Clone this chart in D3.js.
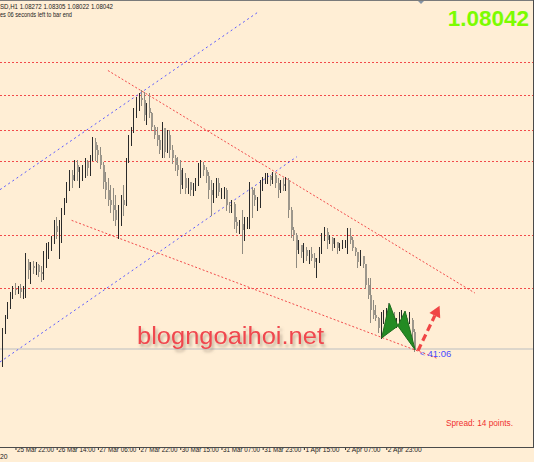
<!DOCTYPE html>
<html><head><meta charset="utf-8">
<script src="https://cdn.jsdelivr.net/npm/d3@7/dist/d3.min.js"></script>
<style>html,body{margin:0;padding:0;background:#FFEED5;}svg{display:block;}</style>
</head><body>
<svg id="c" width="534" height="462"></svg>
<script>
// ---------- DATA ----------
const firstOpen = 1.0787;
const highs = [1.0832,1.0849,1.0867,1.0880,1.0889,1.0893,1.0888,1.0891,1.0889,1.0933,
1.0925,1.0920,1.0922,1.0920,1.0918,1.0915,1.0935,1.0946,1.0947,1.0955,
1.0976,1.0980,1.0976,1.0993,1.1006,1.1027,1.1043,1.1043,1.1057,1.1057,
1.1047,1.1050,1.1059,1.1057,1.1063,1.1087,1.1086,1.1077,1.1074,1.1054,
1.1041,1.1033,1.1023,1.1019,1.1010,1.0996,1.1010,1.1023,1.1059,1.1090,
1.1101,1.1126,1.1141,1.1146,1.1150,1.1147,1.1133,1.1146,1.1121,1.1103,
1.1101,1.1090,1.1107,1.1083,1.1097,1.1097,1.1077,1.1063,1.1061,1.1057,
1.1046,1.1039,1.1033,1.1027,1.1026,1.1033,1.1053,1.1057,1.1054,1.1047,
1.1041,1.1030,1.1026,1.1033,1.1033,1.1019,1.1021,1.1019,1.1000,1.1003,
1.1000,1.0980,1.0976,1.0990,1.0980,1.0980,1.1027,1.1021,1.1019,1.1007,
1.1030,1.1034,1.1039,1.1039,1.1037,1.1041,1.1039,1.1033,1.1030,1.1033,
1.1034,1.1033,1.0994,1.0967,1.0959,1.0950,1.0943,1.0946,1.0940,1.0936,
1.0940,1.0932,1.0926,1.0940,1.0959,1.0967,1.0966,1.0956,1.0954,1.0952,
1.0947,1.0946,1.0950,1.0950,1.0966,1.0966,1.0954,1.0940,1.0933,1.0936,
1.0927,1.0916,1.0899,1.0899,1.0870,1.0863,1.0847,1.0853,1.0856,1.0859,
1.0866,1.0856,1.0853,1.0845,1.0854,1.0856,1.0854,1.0850,1.0853,1.0845,
1.08305];
const lows = [1.0781,1.0825,1.0845,1.0859,1.0872,1.0878,1.0879,1.0874,1.0872,1.0874,
1.0899,1.0892,1.0906,1.0905,1.0902,1.0895,1.0898,1.0914,1.0926,1.0936,
1.0946,1.0952,1.0926,1.0947,1.0985,1.1000,1.1017,1.1021,1.1030,1.1030,
1.1021,1.1030,1.1034,1.1037,1.1037,1.1057,1.1057,1.1054,1.1046,1.1019,
1.1006,1.0996,1.0987,1.0976,1.0970,1.0952,1.0970,1.0983,1.0996,1.1054,
1.1077,1.1097,1.1114,1.1123,1.1130,1.1110,1.1105,1.1114,1.1097,1.1086,
1.1077,1.1066,1.1061,1.1061,1.1070,1.1061,1.1053,1.1043,1.1037,1.1013,
1.1019,1.1013,1.1013,1.1010,1.1010,1.1017,1.1023,1.1034,1.1037,1.1027,
1.1006,1.0983,1.1000,1.1007,1.1010,1.1006,1.1006,1.0990,1.0987,1.0987,
1.0966,1.0960,1.0959,1.0933,1.0950,1.0966,1.0966,1.0980,1.0996,1.0990,
1.0994,1.1017,1.1026,1.1026,1.1023,1.1026,1.1021,1.1007,1.1014,1.1017,
1.1017,1.0980,1.0954,1.0950,1.0914,1.0932,1.0927,1.0920,1.0923,1.0919,
1.0923,1.0914,1.0900,1.0923,1.0932,1.0950,1.0939,1.0946,1.0936,1.0940,
1.0933,1.0936,1.0939,1.0940,1.0932,1.0946,1.0936,1.0930,1.0914,1.0916,
1.0914,1.0886,1.0872,1.0840,1.0845,1.0843,1.0827,1.0819,1.0839,1.0845,
1.0850,1.0840,1.0836,1.0833,1.0839,1.0840,1.0843,1.0836,1.0839,1.0816,
1.08022];
const closes = [1.0827,1.0845,1.0863,1.0875,1.0885,1.0883,1.0885,1.0880,1.0887,1.0920,
1.0910,1.0915,1.0912,1.0916,1.0907,1.0905,1.0923,1.0936,1.0941,1.0950,
1.0968,1.0960,1.0973,1.0987,1.1000,1.1019,1.1037,1.1030,1.1050,1.1041,
1.1043,1.1043,1.1054,1.1046,1.1059,1.1081,1.1070,1.1063,1.1050,1.1027,
1.1017,1.1003,1.0996,1.0990,1.0976,1.0983,1.1003,1.0996,1.1054,1.1083,
1.1094,1.1121,1.1137,1.1139,1.1137,1.1117,1.1126,1.1119,1.1101,1.1090,
1.1083,1.1070,1.1099,1.1067,1.1090,1.1070,1.1059,1.1050,1.1043,1.1023,
1.1033,1.1019,1.1027,1.1017,1.1022,1.1030,1.1046,1.1050,1.1043,1.1035,
1.1017,1.1010,1.1019,1.1026,1.1014,1.1014,1.1017,1.0996,1.0995,1.0998,
1.0974,1.0968,1.0971,1.0963,1.0974,1.0974,1.1017,1.1010,1.1003,1.1003,
1.1025,1.1030,1.1033,1.1035,1.1030,1.1037,1.1026,1.1017,1.1025,1.1022,
1.1030,1.0990,1.0963,1.0956,1.0936,1.0943,1.0934,1.0936,1.0928,1.0931,
1.0926,1.0920,1.0920,1.0936,1.0952,1.0960,1.0950,1.0952,1.0944,1.0947,
1.0939,1.0943,1.0946,1.0947,1.0955,1.0950,1.0939,1.0934,1.0920,1.0928,
1.0918,1.0890,1.0876,1.0856,1.0850,1.0845,1.0832,1.0845,1.0851,1.0856,
1.0854,1.0845,1.0840,1.0843,1.0850,1.0851,1.0845,1.0843,1.0843,1.08272,
1.08042];

const tickIndex  = [5,21,37,53,69,85,101,117,133,149];
const tickLabels = ["25 Mar 22:00","26 Mar 14:00","27 Mar 06:00","27 Mar 22:00","30 Mar 15:00",
                    "31 Mar 07:00","31 Mar 23:00","1 Apr 15:00","2 Apr 07:00","2 Apr 23:00"];
const firstDateLabel = "20";

const levels = [1.1187, 1.1143, 1.1096, 1.1055, 1.0956, 1.0886];
const blueChannel = [[[-0.8, 1.1017],[99.4, 1.1254]], [[-0.8, 1.0787],[114.5, 1.1061]]];
const redTrends   = [[[41.1, 1.1176],[183.6, 1.0879]], [[27.0, 1.0976],[168.8, 1.0792]]];
const gartley = [[147.4,1.0819],[150.4,1.0865],[153.7,1.0835],[156.5,1.0855],[160.4,1.0803]];
const arrowPts = [[161.5,1.0802],[169.9,1.0862]];
const lastPrice = 1.08042;
const symbolInfo = "SD,H1  1.08272 1.08305 1.08022 1.08042";
const timerInfo = "es 06 seconds left to bar end";
const countdown = "41:06";
const spreadText = "Spread: 14 points.";
const watermark = "blogngoaihoi.net";

// ---------- SCALES ----------
const W = 534, H = 462, plotR = 533, plotB = 447;
const x = d3.scaleLinear().domain([0, 160]).range([2.1, 2.1 + 160*2.575]);
const y = d3.scaleLinear().domain([1.0804, 1.1150]).range([349.2, 90]);
const FONT = "Liberation Sans, Arial, sans-serif";

const svg = d3.select("#c");
svg.append("rect").attr("width", W).attr("height", H).attr("fill", "#FFEED5");

const defs = svg.append("defs");
defs.append("clipPath").attr("id","plot").append("rect").attr("x",0).attr("y",0).attr("width",plotR).attr("height",plotB);
const f = defs.append("filter").attr("id","sh").attr("x","-10%").attr("y","-30%").attr("width","130%").attr("height","180%");
f.append("feDropShadow").attr("dx",2).attr("dy",3).attr("stdDeviation",1.6).attr("flood-color","#8a7a6a").attr("flood-opacity",0.55);

const g = svg.append("g").attr("clip-path","url(#plot)");

// horizontal levels
g.selectAll("line.lvl").data(levels).join("line")
  .attr("x1",0).attr("x2",plotR)
  .attr("y1",d=>Math.round(y(d))+0.5).attr("y2",d=>Math.round(y(d))+0.5)
  .attr("stroke","#f24a4a").attr("stroke-dasharray","2,2").attr("stroke-width",1);

// bid line
g.append("line").attr("x1",0).attr("x2",plotR).attr("y1",y(lastPrice)).attr("y2",y(lastPrice))
  .attr("stroke","#ddd6cb").attr("stroke-width",2);

// blue channel
g.selectAll("line.blue").data(blueChannel).join("line")
  .attr("x1",d=>x(d[0][0])).attr("y1",d=>y(d[0][1]))
  .attr("x2",d=>x(d[1][0])).attr("y2",d=>y(d[1][1]))
  .attr("stroke","#5a5aff").attr("stroke-dasharray","2,3").attr("stroke-width",1);

// red trend lines
g.selectAll("line.red").data(redTrends).join("line")
  .attr("x1",d=>x(d[0][0])).attr("y1",d=>y(d[0][1]))
  .attr("x2",d=>x(d[1][0])).attr("y2",d=>y(d[1][1]))
  .attr("stroke","#f24a4a").attr("stroke-dasharray","2,2").attr("stroke-width",1);

// candles
const bars = closes.map((c,i)=>{
  const o = i===0 ? firstOpen : closes[i-1];
  return {i, o, c, h: Math.max(highs[i],o,c), l: Math.min(lows[i],o,c)};
});
const cg = g.append("g");
bars.forEach(b=>{
  const cx = Math.round(x(b.i));
  const up = b.c >= b.o;
  cg.append("line").attr("x1",cx+0.5).attr("x2",cx+0.5)
    .attr("y1",Math.round(y(b.h))).attr("y2",Math.round(y(b.l))+1)
    .attr("stroke", up ? "#2b2b2b" : "#8f8a80").attr("stroke-width",1);
  const top = Math.round(y(Math.max(b.o,b.c))), bot = Math.round(y(Math.min(b.o,b.c)));
  cg.append("rect").attr("x", cx)
    .attr("y", top).attr("width", up ? 1 : 2).attr("height", Math.max(1, bot-top))
    .attr("fill", up ? "#2b2b2b" : "#9d978c");
});

// watermark
svg.append("text").attr("x",137).attr("y",344).text(watermark)
  .attr("font-family",FONT).attr("font-size",23.5)
  .attr("textLength",187).attr("lengthAdjust","spacingAndGlyphs")
  .attr("fill","#f0464e").attr("filter","url(#sh)");

// gartley pattern
const gp = gartley.map(p=>[x(p[0]), y(p[1])]);
g.append("path").attr("d", d3.line()([gp[0],gp[1],gp[2]])+"Z")
  .attr("fill","#238b23").attr("stroke","#1d6e1d").attr("stroke-width",1);
g.append("path").attr("d", d3.line()([gp[2],gp[3],gp[4]])+"Z")
  .attr("fill","#238b23").attr("stroke","#1d6e1d").attr("stroke-width",1);

// arrow
const a0 = [x(arrowPts[0][0]), y(arrowPts[0][1])], a1 = [x(arrowPts[1][0]), y(arrowPts[1][1])];
const ang = Math.atan2(a1[1]-a0[1], a1[0]-a0[0]);
const hl = 11, hw = 6;
const base = [a1[0]-hl*Math.cos(ang), a1[1]-hl*Math.sin(ang)];
g.append("line").attr("x1",a0[0]).attr("y1",a0[1]).attr("x2",base[0]).attr("y2",base[1])
  .attr("stroke","#f04545").attr("stroke-width",3.2).attr("stroke-dasharray","7,4");
g.append("path").attr("d", d3.line()([a1,
   [base[0]+hw*Math.sin(ang), base[1]-hw*Math.cos(ang)],
   [base[0]-hw*Math.sin(ang), base[1]+hw*Math.cos(ang)]])+"Z")
  .attr("fill","#f04545");

// countdown
svg.append("text").attr("x",420).attr("y",y(lastPrice)+7).text("<")
  .attr("font-family",FONT).attr("font-size",8).attr("fill","#4a4aff");
svg.append("text").attr("x",427.5).attr("y",y(lastPrice)+7.5).text(countdown)
  .attr("font-family",FONT).attr("font-size",9.5).attr("fill","#4a4aff");

// spread
svg.append("text").attr("x",446).attr("y",426).text(spreadText)
  .attr("font-family",FONT).attr("font-size",8.5)
  .attr("textLength",67).attr("lengthAdjust","spacingAndGlyphs").attr("fill","#f03030");

// top info
svg.append("text").attr("x",0).attr("y",9).text(symbolInfo)
  .attr("font-family",FONT).attr("font-size",7)
  .attr("textLength",113).attr("lengthAdjust","spacingAndGlyphs").attr("fill","#222");
svg.append("text").attr("x",0).attr("y",16.5).text(timerInfo)
  .attr("font-family",FONT).attr("font-size",7)
  .attr("textLength",72).attr("lengthAdjust","spacingAndGlyphs").attr("fill","#222");

// big price
svg.append("text").attr("x",529).attr("y",26).attr("text-anchor","end").text(lastPrice.toFixed(5))
  .attr("font-family",FONT).attr("font-weight","bold").attr("font-size",22.5)
  .attr("fill","#7CFC00");

// frame
svg.append("line").attr("x1",0).attr("x2",plotR).attr("y1",0.5).attr("y2",0.5).attr("stroke","#7a7a7a");
svg.append("line").attr("x1",plotR+0.5).attr("x2",plotR+0.5).attr("y1",0).attr("y2",plotB).attr("stroke","#4a4a4a");
svg.append("path").attr("d","M418,1L424,1L421,4Z").attr("fill","#8594a6");

// time axis
const axis = d3.axisBottom(x).tickValues(tickIndex).tickFormat((d,i)=>tickLabels[i]).tickSize(3).tickPadding(2);
const ag = svg.append("g").attr("transform",`translate(0,${plotB})`).call(axis);
ag.select(".domain").remove();
ag.selectAll(".tick line").attr("stroke","#333").attr("transform","translate(0.5,0)");
ag.selectAll(".tick text").attr("text-anchor","start").attr("dx",1.5).attr("dy",0)
  .attr("font-family",FONT).attr("font-size",6.8).attr("fill","#222")
  .attr("textLength",(d,i)=>tickLabels[i].length>=12 ? 37 : 34).attr("lengthAdjust","spacingAndGlyphs");
svg.append("line").attr("x1",0).attr("x2",plotR+1).attr("y1",plotB+0.5).attr("y2",plotB+0.5).attr("stroke","#4a4a4a");
svg.append("text").attr("x",0).attr("y",459).text(firstDateLabel)
  .attr("font-family",FONT).attr("font-size",6.8).attr("fill","#222");
</script>
</body></html>
